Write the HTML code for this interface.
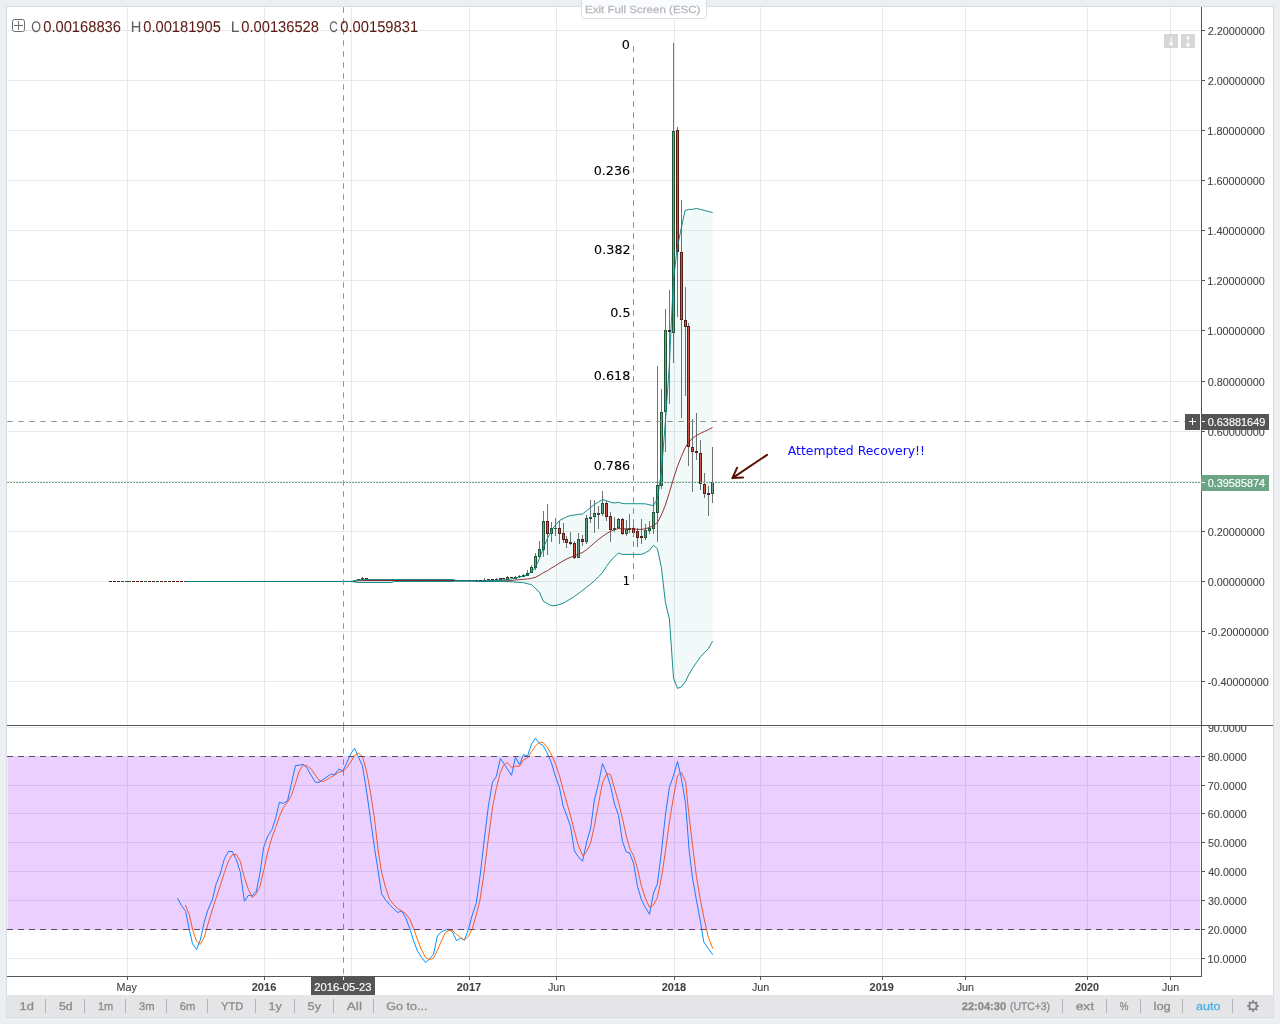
<!DOCTYPE html>
<html lang="en">
<head>
<meta charset="utf-8">
<title>Chart</title>
<style>
html,body{margin:0;padding:0;width:1280px;height:1024px;overflow:hidden;background:#ebeff2;}
svg{display:block;}
text{white-space:pre;}
</style>
</head>
<body>
<svg width="1280" height="1024" viewBox="0 0 1280 1024">
<rect x="0" y="0" width="1280" height="1024" fill="#ebeff2"/>
<rect x="6" y="6" width="1268" height="1012" fill="#d9dde1"/>
<rect x="7" y="7" width="1266" height="988" fill="#ffffff"/>
<rect x="7" y="995" width="1266" height="22" fill="#e5e5e7"/>
<g fill="#e8e8e8" shape-rendering="crispEdges">
<rect x="127" y="7" width="1" height="718" fill="#e8e8e8"/>
<rect x="127" y="726" width="1" height="250" fill="#e8e8e8"/>
<rect x="264" y="7" width="1" height="718" fill="#e8e8e8"/>
<rect x="264" y="726" width="1" height="250" fill="#e8e8e8"/>
<rect x="351" y="7" width="1" height="718" fill="#e8e8e8"/>
<rect x="351" y="726" width="1" height="250" fill="#e8e8e8"/>
<rect x="469" y="7" width="1" height="718" fill="#e8e8e8"/>
<rect x="469" y="726" width="1" height="250" fill="#e8e8e8"/>
<rect x="556" y="7" width="1" height="718" fill="#e8e8e8"/>
<rect x="556" y="726" width="1" height="250" fill="#e8e8e8"/>
<rect x="674" y="7" width="1" height="718" fill="#e8e8e8"/>
<rect x="674" y="726" width="1" height="250" fill="#e8e8e8"/>
<rect x="760" y="7" width="1" height="718" fill="#e8e8e8"/>
<rect x="760" y="726" width="1" height="250" fill="#e8e8e8"/>
<rect x="882" y="7" width="1" height="718" fill="#e8e8e8"/>
<rect x="882" y="726" width="1" height="250" fill="#e8e8e8"/>
<rect x="965" y="7" width="1" height="718" fill="#e8e8e8"/>
<rect x="965" y="726" width="1" height="250" fill="#e8e8e8"/>
<rect x="1087" y="7" width="1" height="718" fill="#e8e8e8"/>
<rect x="1087" y="726" width="1" height="250" fill="#e8e8e8"/>
<rect x="1170" y="7" width="1" height="718" fill="#e8e8e8"/>
<rect x="1170" y="726" width="1" height="250" fill="#e8e8e8"/>
<rect x="8" y="30" width="1192" height="1" fill="#e8e8e8"/>
<rect x="8" y="80" width="1192" height="1" fill="#e8e8e8"/>
<rect x="8" y="130" width="1192" height="1" fill="#e8e8e8"/>
<rect x="8" y="180" width="1192" height="1" fill="#e8e8e8"/>
<rect x="8" y="230" width="1192" height="1" fill="#e8e8e8"/>
<rect x="8" y="280" width="1192" height="1" fill="#e8e8e8"/>
<rect x="8" y="330" width="1192" height="1" fill="#e8e8e8"/>
<rect x="8" y="381" width="1192" height="1" fill="#e8e8e8"/>
<rect x="8" y="431" width="1192" height="1" fill="#e8e8e8"/>
<rect x="8" y="481" width="1192" height="1" fill="#e8e8e8"/>
<rect x="8" y="531" width="1192" height="1" fill="#e8e8e8"/>
<rect x="8" y="581" width="1192" height="1" fill="#e8e8e8"/>
<rect x="8" y="631" width="1192" height="1" fill="#e8e8e8"/>
<rect x="8" y="681" width="1192" height="1" fill="#e8e8e8"/>
<rect x="8" y="727" width="1192" height="1" fill="#e8e8e8"/>
<rect x="8" y="756" width="1192" height="1" fill="#e8e8e8"/>
<rect x="8" y="785" width="1192" height="1" fill="#e8e8e8"/>
<rect x="8" y="813" width="1192" height="1" fill="#e8e8e8"/>
<rect x="8" y="842" width="1192" height="1" fill="#e8e8e8"/>
<rect x="8" y="871" width="1192" height="1" fill="#e8e8e8"/>
<rect x="8" y="900" width="1192" height="1" fill="#e8e8e8"/>
<rect x="8" y="929" width="1192" height="1" fill="#e8e8e8"/>
<rect x="8" y="958" width="1192" height="1" fill="#e8e8e8"/>
</g>
<g shape-rendering="crispEdges">
<rect x="110" y="581" width="1" height="1" fill="#737375"/>
<rect x="109" y="581" width="3" height="1" fill="#5b1a13"/>
<rect x="114" y="581" width="1" height="1" fill="#737375"/>
<rect x="113" y="581" width="3" height="1" fill="#5b1a13"/>
<rect x="118" y="581" width="1" height="1" fill="#737375"/>
<rect x="117" y="581" width="3" height="1" fill="#5b1a13"/>
<rect x="122" y="581" width="1" height="1" fill="#737375"/>
<rect x="121" y="581" width="3" height="1" fill="#225437"/>
<rect x="126" y="581" width="1" height="1" fill="#737375"/>
<rect x="125" y="581" width="3" height="1" fill="#225437"/>
<rect x="129" y="581" width="1" height="1" fill="#737375"/>
<rect x="128" y="581" width="3" height="1" fill="#225437"/>
<rect x="133" y="581" width="1" height="1" fill="#737375"/>
<rect x="132" y="581" width="3" height="1" fill="#5b1a13"/>
<rect x="137" y="581" width="1" height="1" fill="#737375"/>
<rect x="136" y="581" width="3" height="1" fill="#5b1a13"/>
<rect x="141" y="581" width="1" height="1" fill="#737375"/>
<rect x="140" y="581" width="3" height="1" fill="#5b1a13"/>
<rect x="145" y="581" width="1" height="1" fill="#737375"/>
<rect x="144" y="581" width="3" height="1" fill="#225437"/>
<rect x="149" y="581" width="1" height="1" fill="#737375"/>
<rect x="148" y="581" width="3" height="1" fill="#5b1a13"/>
<rect x="153" y="581" width="1" height="1" fill="#737375"/>
<rect x="152" y="581" width="3" height="1" fill="#5b1a13"/>
<rect x="157" y="581" width="1" height="1" fill="#737375"/>
<rect x="156" y="581" width="3" height="1" fill="#225437"/>
<rect x="161" y="581" width="1" height="1" fill="#737375"/>
<rect x="160" y="581" width="3" height="1" fill="#5b1a13"/>
<rect x="165" y="581" width="1" height="1" fill="#737375"/>
<rect x="164" y="581" width="3" height="1" fill="#225437"/>
<rect x="169" y="581" width="1" height="1" fill="#737375"/>
<rect x="168" y="581" width="3" height="1" fill="#5b1a13"/>
<rect x="173" y="581" width="1" height="1" fill="#737375"/>
<rect x="172" y="581" width="3" height="1" fill="#5b1a13"/>
<rect x="177" y="581" width="1" height="1" fill="#737375"/>
<rect x="176" y="581" width="3" height="1" fill="#5b1a13"/>
<rect x="181" y="581" width="1" height="1" fill="#737375"/>
<rect x="180" y="581" width="3" height="1" fill="#5b1a13"/>
<rect x="185" y="581" width="1" height="1" fill="#737375"/>
<rect x="184" y="581" width="3" height="1" fill="#5b1a13"/>
<rect x="188" y="581" width="1" height="1" fill="#737375"/>
<rect x="187" y="581" width="3" height="1" fill="#225437"/>
<rect x="192" y="581" width="1" height="1" fill="#737375"/>
<rect x="191" y="581" width="3" height="1" fill="#225437"/>
<rect x="196" y="581" width="1" height="1" fill="#737375"/>
<rect x="195" y="581" width="3" height="1" fill="#5b1a13"/>
<rect x="200" y="581" width="1" height="1" fill="#737375"/>
<rect x="199" y="581" width="3" height="1" fill="#5b1a13"/>
<rect x="204" y="581" width="1" height="1" fill="#737375"/>
<rect x="203" y="581" width="3" height="1" fill="#5b1a13"/>
<rect x="208" y="581" width="1" height="1" fill="#737375"/>
<rect x="207" y="581" width="3" height="1" fill="#5b1a13"/>
<rect x="212" y="581" width="1" height="1" fill="#737375"/>
<rect x="211" y="581" width="3" height="1" fill="#5b1a13"/>
<rect x="216" y="581" width="1" height="1" fill="#737375"/>
<rect x="215" y="581" width="3" height="1" fill="#225437"/>
<rect x="220" y="581" width="1" height="1" fill="#737375"/>
<rect x="219" y="581" width="3" height="1" fill="#5b1a13"/>
<rect x="224" y="581" width="1" height="1" fill="#737375"/>
<rect x="223" y="581" width="3" height="1" fill="#5b1a13"/>
<rect x="228" y="581" width="1" height="1" fill="#737375"/>
<rect x="227" y="581" width="3" height="1" fill="#225437"/>
<rect x="232" y="581" width="1" height="1" fill="#737375"/>
<rect x="231" y="581" width="3" height="1" fill="#225437"/>
<rect x="236" y="581" width="1" height="1" fill="#737375"/>
<rect x="235" y="581" width="3" height="1" fill="#5b1a13"/>
<rect x="240" y="581" width="1" height="1" fill="#737375"/>
<rect x="239" y="581" width="3" height="1" fill="#225437"/>
<rect x="244" y="581" width="1" height="1" fill="#737375"/>
<rect x="243" y="581" width="3" height="1" fill="#5b1a13"/>
<rect x="248" y="581" width="1" height="1" fill="#737375"/>
<rect x="247" y="581" width="3" height="1" fill="#225437"/>
<rect x="251" y="581" width="1" height="1" fill="#737375"/>
<rect x="250" y="581" width="3" height="1" fill="#5b1a13"/>
<rect x="255" y="581" width="1" height="1" fill="#737375"/>
<rect x="254" y="581" width="3" height="1" fill="#5b1a13"/>
<rect x="259" y="581" width="1" height="1" fill="#737375"/>
<rect x="258" y="581" width="3" height="1" fill="#225437"/>
<rect x="263" y="581" width="1" height="1" fill="#737375"/>
<rect x="262" y="581" width="3" height="1" fill="#5b1a13"/>
<rect x="267" y="581" width="1" height="1" fill="#737375"/>
<rect x="266" y="581" width="3" height="1" fill="#225437"/>
<rect x="271" y="581" width="1" height="1" fill="#737375"/>
<rect x="270" y="581" width="3" height="1" fill="#5b1a13"/>
<rect x="275" y="581" width="1" height="1" fill="#737375"/>
<rect x="274" y="581" width="3" height="1" fill="#225437"/>
<rect x="279" y="581" width="1" height="1" fill="#737375"/>
<rect x="278" y="581" width="3" height="1" fill="#5b1a13"/>
<rect x="283" y="581" width="1" height="1" fill="#737375"/>
<rect x="282" y="581" width="3" height="1" fill="#225437"/>
<rect x="287" y="581" width="1" height="1" fill="#737375"/>
<rect x="286" y="581" width="3" height="1" fill="#5b1a13"/>
<rect x="291" y="581" width="1" height="1" fill="#737375"/>
<rect x="290" y="581" width="3" height="1" fill="#225437"/>
<rect x="295" y="581" width="1" height="1" fill="#737375"/>
<rect x="294" y="581" width="3" height="1" fill="#225437"/>
<rect x="299" y="581" width="1" height="1" fill="#737375"/>
<rect x="298" y="581" width="3" height="1" fill="#5b1a13"/>
<rect x="303" y="581" width="1" height="1" fill="#737375"/>
<rect x="302" y="581" width="3" height="1" fill="#5b1a13"/>
<rect x="307" y="581" width="1" height="1" fill="#737375"/>
<rect x="306" y="581" width="3" height="1" fill="#225437"/>
<rect x="311" y="581" width="1" height="1" fill="#737375"/>
<rect x="310" y="581" width="3" height="1" fill="#5b1a13"/>
<rect x="314" y="581" width="1" height="1" fill="#737375"/>
<rect x="313" y="581" width="3" height="1" fill="#225437"/>
<rect x="318" y="581" width="1" height="1" fill="#737375"/>
<rect x="317" y="581" width="3" height="1" fill="#5b1a13"/>
<rect x="322" y="581" width="1" height="1" fill="#737375"/>
<rect x="321" y="581" width="3" height="1" fill="#5b1a13"/>
<rect x="326" y="581" width="1" height="1" fill="#737375"/>
<rect x="325" y="581" width="3" height="1" fill="#5b1a13"/>
<rect x="330" y="581" width="1" height="1" fill="#737375"/>
<rect x="329" y="581" width="3" height="1" fill="#5b1a13"/>
<rect x="334" y="581" width="1" height="1" fill="#737375"/>
<rect x="333" y="581" width="3" height="1" fill="#225437"/>
<rect x="338" y="581" width="1" height="1" fill="#737375"/>
<rect x="337" y="581" width="3" height="1" fill="#225437"/>
<rect x="342" y="581" width="1" height="1" fill="#737375"/>
<rect x="341" y="581" width="3" height="1" fill="#225437"/>
<rect x="346" y="581" width="1" height="1" fill="#737375"/>
<rect x="345" y="581" width="3" height="1" fill="#5b1a13"/>
<rect x="350" y="581" width="1" height="1" fill="#737375"/>
<rect x="349" y="581" width="3" height="1" fill="#225437"/>
<rect x="354" y="581" width="1" height="1" fill="#737375"/>
<rect x="353" y="581" width="3" height="1" fill="#225437"/>
<rect x="358" y="579" width="1" height="1" fill="#737375"/>
<rect x="357" y="579" width="3" height="1" fill="#225437"/>
<rect x="362" y="577" width="1" height="3" fill="#737375"/>
<rect x="361" y="578" width="3" height="1" fill="#225437"/>
<rect x="366" y="578" width="1" height="1" fill="#737375"/>
<rect x="365" y="578" width="3" height="1" fill="#5b1a13"/>
<rect x="370" y="580" width="1" height="1" fill="#737375"/>
<rect x="369" y="580" width="3" height="1" fill="#225437"/>
<rect x="374" y="580" width="1" height="1" fill="#737375"/>
<rect x="373" y="580" width="3" height="1" fill="#225437"/>
<rect x="377" y="580" width="1" height="1" fill="#737375"/>
<rect x="376" y="580" width="3" height="1" fill="#5b1a13"/>
<rect x="381" y="580" width="1" height="1" fill="#737375"/>
<rect x="380" y="580" width="3" height="1" fill="#5b1a13"/>
<rect x="385" y="580" width="1" height="1" fill="#737375"/>
<rect x="384" y="580" width="3" height="1" fill="#225437"/>
<rect x="389" y="580" width="1" height="1" fill="#737375"/>
<rect x="388" y="580" width="3" height="1" fill="#5b1a13"/>
<rect x="393" y="580" width="1" height="1" fill="#737375"/>
<rect x="392" y="580" width="3" height="1" fill="#225437"/>
<rect x="397" y="580" width="1" height="1" fill="#737375"/>
<rect x="396" y="580" width="3" height="1" fill="#5b1a13"/>
<rect x="401" y="580" width="1" height="1" fill="#737375"/>
<rect x="400" y="580" width="3" height="1" fill="#5b1a13"/>
<rect x="405" y="580" width="1" height="1" fill="#737375"/>
<rect x="404" y="580" width="3" height="1" fill="#5b1a13"/>
<rect x="409" y="580" width="1" height="1" fill="#737375"/>
<rect x="408" y="580" width="3" height="1" fill="#225437"/>
<rect x="413" y="580" width="1" height="1" fill="#737375"/>
<rect x="412" y="580" width="3" height="1" fill="#225437"/>
<rect x="417" y="580" width="1" height="1" fill="#737375"/>
<rect x="416" y="580" width="3" height="1" fill="#5b1a13"/>
<rect x="421" y="580" width="1" height="1" fill="#737375"/>
<rect x="420" y="580" width="3" height="1" fill="#225437"/>
<rect x="425" y="580" width="1" height="1" fill="#737375"/>
<rect x="424" y="580" width="3" height="1" fill="#225437"/>
<rect x="429" y="580" width="1" height="1" fill="#737375"/>
<rect x="428" y="580" width="3" height="1" fill="#225437"/>
<rect x="433" y="580" width="1" height="1" fill="#737375"/>
<rect x="432" y="580" width="3" height="1" fill="#5b1a13"/>
<rect x="437" y="580" width="1" height="1" fill="#737375"/>
<rect x="436" y="580" width="3" height="1" fill="#5b1a13"/>
<rect x="440" y="580" width="1" height="1" fill="#737375"/>
<rect x="439" y="580" width="3" height="1" fill="#5b1a13"/>
<rect x="444" y="580" width="1" height="1" fill="#737375"/>
<rect x="443" y="580" width="3" height="1" fill="#5b1a13"/>
<rect x="448" y="580" width="1" height="1" fill="#737375"/>
<rect x="447" y="580" width="3" height="1" fill="#5b1a13"/>
<rect x="452" y="580" width="1" height="1" fill="#737375"/>
<rect x="451" y="580" width="3" height="1" fill="#225437"/>
<rect x="456" y="580" width="1" height="1" fill="#737375"/>
<rect x="455" y="580" width="3" height="1" fill="#225437"/>
<rect x="460" y="580" width="1" height="1" fill="#737375"/>
<rect x="459" y="580" width="3" height="1" fill="#5b1a13"/>
<rect x="464" y="580" width="1" height="1" fill="#737375"/>
<rect x="463" y="580" width="3" height="1" fill="#5b1a13"/>
<rect x="468" y="580" width="1" height="1" fill="#737375"/>
<rect x="467" y="580" width="3" height="1" fill="#5b1a13"/>
<rect x="472" y="580" width="1" height="1" fill="#737375"/>
<rect x="471" y="580" width="3" height="1" fill="#225437"/>
<rect x="476" y="580" width="1" height="1" fill="#737375"/>
<rect x="475" y="580" width="3" height="1" fill="#5b1a13"/>
<rect x="480" y="580" width="1" height="1" fill="#737375"/>
<rect x="479" y="580" width="3" height="1" fill="#5b1a13"/>
<rect x="484" y="578" width="1" height="3" fill="#737375"/>
<rect x="483" y="580" width="3" height="1" fill="#5b1a13"/>
<rect x="488" y="579" width="1" height="1" fill="#737375"/>
<rect x="487" y="579" width="3" height="1" fill="#225437"/>
<rect x="492" y="579" width="1" height="1" fill="#737375"/>
<rect x="491" y="579" width="3" height="1" fill="#5b1a13"/>
<rect x="496" y="578" width="1" height="2" fill="#737375"/>
<rect x="495" y="579" width="3" height="1" fill="#225437"/>
<rect x="500" y="578" width="1" height="2" fill="#737375"/>
<rect x="499" y="578" width="3" height="2" fill="#225437"/>
<rect x="503" y="578" width="1" height="1" fill="#737375"/>
<rect x="502" y="578" width="3" height="1" fill="#5b1a13"/>
<rect x="507" y="576" width="1" height="4" fill="#737375"/>
<rect x="506" y="577" width="3" height="3" fill="#225437"/>
<rect x="507" y="578" width="1" height="1" fill="#6ba583"/>
<rect x="511" y="577" width="1" height="1" fill="#737375"/>
<rect x="510" y="577" width="3" height="1" fill="#5b1a13"/>
<rect x="515" y="576" width="1" height="3" fill="#737375"/>
<rect x="514" y="577" width="3" height="2" fill="#225437"/>
<rect x="519" y="575" width="1" height="3" fill="#737375"/>
<rect x="518" y="576" width="3" height="1" fill="#225437"/>
<rect x="523" y="574" width="1" height="3" fill="#737375"/>
<rect x="522" y="575" width="3" height="2" fill="#225437"/>
<rect x="527" y="570" width="1" height="6" fill="#737375"/>
<rect x="526" y="573" width="3" height="3" fill="#225437"/>
<rect x="527" y="574" width="1" height="1" fill="#6ba583"/>
<rect x="531" y="565" width="1" height="8" fill="#737375"/>
<rect x="530" y="567" width="3" height="6" fill="#225437"/>
<rect x="531" y="568" width="1" height="4" fill="#6ba583"/>
<rect x="535" y="553" width="1" height="17" fill="#737375"/>
<rect x="534" y="556" width="3" height="12" fill="#225437"/>
<rect x="535" y="557" width="1" height="10" fill="#6ba583"/>
<rect x="539" y="541" width="1" height="16" fill="#737375"/>
<rect x="538" y="549" width="3" height="8" fill="#225437"/>
<rect x="539" y="550" width="1" height="6" fill="#6ba583"/>
<rect x="543" y="511" width="1" height="46" fill="#737375"/>
<rect x="542" y="521" width="3" height="29" fill="#225437"/>
<rect x="543" y="522" width="1" height="27" fill="#6ba583"/>
<rect x="547" y="504" width="1" height="51" fill="#737375"/>
<rect x="546" y="521" width="3" height="13" fill="#5b1a13"/>
<rect x="547" y="522" width="1" height="11" fill="#d75442"/>
<rect x="551" y="522" width="1" height="20" fill="#737375"/>
<rect x="550" y="528" width="3" height="6" fill="#225437"/>
<rect x="551" y="529" width="1" height="4" fill="#6ba583"/>
<rect x="555" y="518" width="1" height="18" fill="#737375"/>
<rect x="554" y="528" width="3" height="1" fill="#225437"/>
<rect x="559" y="521" width="1" height="23" fill="#737375"/>
<rect x="558" y="528" width="3" height="6" fill="#5b1a13"/>
<rect x="559" y="529" width="1" height="4" fill="#d75442"/>
<rect x="563" y="523" width="1" height="20" fill="#737375"/>
<rect x="562" y="533" width="3" height="7" fill="#5b1a13"/>
<rect x="563" y="534" width="1" height="5" fill="#d75442"/>
<rect x="566" y="536" width="1" height="12" fill="#737375"/>
<rect x="565" y="539" width="3" height="4" fill="#5b1a13"/>
<rect x="566" y="540" width="1" height="2" fill="#d75442"/>
<rect x="570" y="532" width="1" height="13" fill="#737375"/>
<rect x="569" y="542" width="3" height="2" fill="#5b1a13"/>
<rect x="574" y="541" width="1" height="18" fill="#737375"/>
<rect x="573" y="543" width="3" height="15" fill="#5b1a13"/>
<rect x="574" y="544" width="1" height="13" fill="#d75442"/>
<rect x="578" y="533" width="1" height="25" fill="#737375"/>
<rect x="577" y="539" width="3" height="19" fill="#225437"/>
<rect x="578" y="540" width="1" height="17" fill="#6ba583"/>
<rect x="582" y="535" width="1" height="11" fill="#737375"/>
<rect x="581" y="539" width="3" height="3" fill="#5b1a13"/>
<rect x="582" y="540" width="1" height="1" fill="#d75442"/>
<rect x="586" y="515" width="1" height="29" fill="#737375"/>
<rect x="585" y="518" width="3" height="24" fill="#225437"/>
<rect x="586" y="519" width="1" height="22" fill="#6ba583"/>
<rect x="590" y="500" width="1" height="23" fill="#737375"/>
<rect x="589" y="517" width="3" height="2" fill="#225437"/>
<rect x="594" y="500" width="1" height="33" fill="#737375"/>
<rect x="593" y="513" width="3" height="4" fill="#225437"/>
<rect x="594" y="514" width="1" height="2" fill="#6ba583"/>
<rect x="598" y="506" width="1" height="23" fill="#737375"/>
<rect x="597" y="513" width="3" height="2" fill="#225437"/>
<rect x="602" y="491" width="1" height="25" fill="#737375"/>
<rect x="601" y="503" width="3" height="11" fill="#225437"/>
<rect x="602" y="504" width="1" height="9" fill="#6ba583"/>
<rect x="606" y="501" width="1" height="20" fill="#737375"/>
<rect x="605" y="503" width="3" height="14" fill="#5b1a13"/>
<rect x="606" y="504" width="1" height="12" fill="#d75442"/>
<rect x="610" y="512" width="1" height="30" fill="#737375"/>
<rect x="609" y="516" width="3" height="14" fill="#5b1a13"/>
<rect x="610" y="517" width="1" height="12" fill="#d75442"/>
<rect x="614" y="517" width="1" height="15" fill="#737375"/>
<rect x="613" y="528" width="3" height="2" fill="#225437"/>
<rect x="618" y="518" width="1" height="11" fill="#737375"/>
<rect x="617" y="519" width="3" height="9" fill="#225437"/>
<rect x="618" y="520" width="1" height="7" fill="#6ba583"/>
<rect x="622" y="518" width="1" height="17" fill="#737375"/>
<rect x="621" y="519" width="3" height="15" fill="#5b1a13"/>
<rect x="622" y="520" width="1" height="13" fill="#d75442"/>
<rect x="626" y="520" width="1" height="16" fill="#737375"/>
<rect x="625" y="529" width="3" height="5" fill="#225437"/>
<rect x="626" y="530" width="1" height="3" fill="#6ba583"/>
<rect x="629" y="514" width="1" height="19" fill="#737375"/>
<rect x="628" y="528" width="3" height="2" fill="#225437"/>
<rect x="633" y="525" width="1" height="12" fill="#737375"/>
<rect x="632" y="528" width="3" height="5" fill="#5b1a13"/>
<rect x="633" y="529" width="1" height="3" fill="#d75442"/>
<rect x="637" y="528" width="1" height="19" fill="#737375"/>
<rect x="636" y="531" width="3" height="7" fill="#5b1a13"/>
<rect x="637" y="532" width="1" height="5" fill="#d75442"/>
<rect x="641" y="519" width="1" height="25" fill="#737375"/>
<rect x="640" y="536" width="3" height="2" fill="#5b1a13"/>
<rect x="645" y="524" width="1" height="16" fill="#737375"/>
<rect x="644" y="530" width="3" height="8" fill="#225437"/>
<rect x="645" y="531" width="1" height="6" fill="#6ba583"/>
<rect x="649" y="521" width="1" height="13" fill="#737375"/>
<rect x="648" y="528" width="3" height="3" fill="#225437"/>
<rect x="649" y="529" width="1" height="1" fill="#6ba583"/>
<rect x="653" y="497" width="1" height="37" fill="#737375"/>
<rect x="652" y="512" width="3" height="17" fill="#225437"/>
<rect x="653" y="513" width="1" height="15" fill="#6ba583"/>
<rect x="657" y="366" width="1" height="176" fill="#737375"/>
<rect x="656" y="485" width="3" height="28" fill="#225437"/>
<rect x="657" y="486" width="1" height="26" fill="#6ba583"/>
<rect x="661" y="389" width="1" height="100" fill="#737375"/>
<rect x="660" y="412" width="3" height="74" fill="#225437"/>
<rect x="661" y="413" width="1" height="72" fill="#6ba583"/>
<rect x="665" y="309" width="1" height="143" fill="#737375"/>
<rect x="664" y="330" width="3" height="82" fill="#225437"/>
<rect x="665" y="331" width="1" height="80" fill="#6ba583"/>
<rect x="669" y="290" width="1" height="114" fill="#737375"/>
<rect x="668" y="330" width="3" height="2" fill="#5b1a13"/>
<rect x="673" y="43" width="1" height="320" fill="#737375"/>
<rect x="672" y="131" width="3" height="202" fill="#225437"/>
<rect x="673" y="132" width="1" height="200" fill="#6ba583"/>
<rect x="677" y="127" width="1" height="190" fill="#737375"/>
<rect x="676" y="130" width="3" height="122" fill="#5b1a13"/>
<rect x="677" y="131" width="1" height="120" fill="#d75442"/>
<rect x="681" y="200" width="1" height="218" fill="#737375"/>
<rect x="680" y="252" width="3" height="68" fill="#5b1a13"/>
<rect x="681" y="253" width="1" height="66" fill="#d75442"/>
<rect x="685" y="287" width="1" height="109" fill="#737375"/>
<rect x="684" y="320" width="3" height="7" fill="#5b1a13"/>
<rect x="685" y="321" width="1" height="5" fill="#d75442"/>
<rect x="688" y="323" width="1" height="143" fill="#737375"/>
<rect x="687" y="326" width="3" height="121" fill="#5b1a13"/>
<rect x="688" y="327" width="1" height="119" fill="#d75442"/>
<rect x="692" y="419" width="1" height="73" fill="#737375"/>
<rect x="691" y="447" width="3" height="5" fill="#5b1a13"/>
<rect x="692" y="448" width="1" height="3" fill="#d75442"/>
<rect x="696" y="413" width="1" height="47" fill="#737375"/>
<rect x="695" y="451" width="3" height="2" fill="#5b1a13"/>
<rect x="700" y="440" width="1" height="50" fill="#737375"/>
<rect x="699" y="453" width="3" height="31" fill="#5b1a13"/>
<rect x="700" y="454" width="1" height="29" fill="#d75442"/>
<rect x="704" y="473" width="1" height="25" fill="#737375"/>
<rect x="703" y="484" width="3" height="10" fill="#5b1a13"/>
<rect x="704" y="485" width="1" height="8" fill="#d75442"/>
<rect x="708" y="486" width="1" height="30" fill="#737375"/>
<rect x="707" y="493" width="3" height="2" fill="#5b1a13"/>
<rect x="712" y="447" width="1" height="56" fill="#737375"/>
<rect x="711" y="482" width="3" height="12" fill="#225437"/>
<rect x="712" y="483" width="1" height="10" fill="#6ba583"/>
</g>
<polygon points="185.00,581.50 352.00,581.40 356.00,580.20 362.00,579.50 453.00,579.50 457.00,580.70 475.00,580.80 478.00,581.20 484.00,580.80 499.00,580.20 506.90,579.50 514.70,578.30 518.60,577.30 522.50,576.30 526.40,575.20 530.30,572.80 534.20,568.90 538.10,561.90 542.00,551.70 543.50,547.50 547.50,538.40 551.50,530.30 555.40,524.90 559.50,520.60 563.40,518.50 566.50,516.80 570.40,515.50 574.50,515.00 578.50,514.25 582.40,514.10 586.50,510.80 590.50,507.50 594.50,504.40 598.50,501.90 602.50,499.50 606.50,500.70 610.50,502.20 614.50,503.00 618.40,502.30 622.50,503.50 626.50,503.70 637.50,503.70 645.40,503.80 649.50,504.80 653.50,505.60 657.40,498.75 661.40,472.00 665.40,421.00 669.30,366.00 673.25,282.00 677.20,248.00 681.10,229.00 685.05,210.50 688.50,209.40 692.50,209.40 696.40,208.40 700.40,209.40 704.40,210.40 708.40,211.40 712.60,212.50 712.60,641.20 708.50,648.50 704.50,652.70 700.50,656.80 696.50,662.50 692.50,668.40 688.50,675.20 685.50,681.50 681.50,686.90 677.50,688.40 673.50,678.10 669.40,619.00 665.40,602.30 661.40,567.50 657.40,548.75 653.50,545.30 649.50,550.30 645.40,552.80 641.50,554.40 622.50,554.40 618.40,553.20 614.40,556.80 610.50,561.00 606.40,566.50 602.25,573.00 598.40,576.80 594.50,580.80 590.60,584.10 586.60,587.30 582.70,590.30 578.70,593.30 574.80,596.20 570.90,598.70 566.95,601.10 563.00,603.30 559.10,604.60 555.10,605.70 551.20,605.60 547.30,603.50 543.30,601.20 539.40,592.10 535.45,588.50 531.50,584.70 523.75,582.75 512.50,581.90 500.00,581.40 478.00,581.50 475.00,581.00 457.00,581.00 453.00,581.50 394.50,581.50 391.00,582.50 359.00,582.50 356.00,582.20 352.00,581.50 185.00,581.50" fill="#008080" fill-opacity="0.05"/>
<polyline points="185.00,581.50 352.00,581.50 358.00,580.70 365.00,580.50 453.00,580.50 457.00,580.80 475.00,580.80 478.00,581.30 500.00,580.90 510.00,580.60 517.50,579.80 523.40,579.30 527.50,579.00 531.50,578.40 535.60,577.20 539.60,575.10 543.30,572.70 547.30,570.80 551.20,568.10 555.10,566.00 559.10,563.30 563.00,561.00 566.95,558.90 570.90,557.20 574.80,555.80 578.50,553.75 582.50,552.60 586.50,549.70 590.40,546.40 594.40,542.90 598.25,539.60 602.25,536.60 606.40,533.70 610.40,531.40 614.40,529.60 618.40,528.60 622.40,528.80 633.40,529.00 637.40,529.40 641.40,529.40 645.40,528.75 649.50,527.50 653.50,525.60 657.40,522.50 661.40,515.00 665.40,505.00 669.40,492.50 673.40,478.75 677.50,466.25 681.50,456.25 685.40,447.30 688.50,442.40 692.50,438.30 696.40,435.40 700.40,433.40 704.40,431.50 708.40,429.60 712.60,427.50" fill="none" stroke="#8a2222" stroke-width="1" stroke-linejoin="round" stroke-opacity="0.92"/>
<polyline points="185.00,581.50 352.00,581.40 356.00,580.20 362.00,579.50 453.00,579.50 457.00,580.70 475.00,580.80 478.00,581.20 484.00,580.80 499.00,580.20 506.90,579.50 514.70,578.30 518.60,577.30 522.50,576.30 526.40,575.20 530.30,572.80 534.20,568.90 538.10,561.90 542.00,551.70 543.50,547.50 547.50,538.40 551.50,530.30 555.40,524.90 559.50,520.60 563.40,518.50 566.50,516.80 570.40,515.50 574.50,515.00 578.50,514.25 582.40,514.10 586.50,510.80 590.50,507.50 594.50,504.40 598.50,501.90 602.50,499.50 606.50,500.70 610.50,502.20 614.50,503.00 618.40,502.30 622.50,503.50 626.50,503.70 637.50,503.70 645.40,503.80 649.50,504.80 653.50,505.60 657.40,498.75 661.40,472.00 665.40,421.00 669.30,366.00 673.25,282.00 677.20,248.00 681.10,229.00 685.05,210.50 688.50,209.40 692.50,209.40 696.40,208.40 700.40,209.40 704.40,210.40 708.40,211.40 712.60,212.50" fill="none" stroke="#008080" stroke-width="1" stroke-linejoin="round" stroke-opacity="0.9"/>
<polyline points="185.00,581.50 352.00,581.50 356.00,582.20 359.00,582.50 391.00,582.50 394.50,581.50 453.00,581.50 457.00,581.00 475.00,581.00 478.00,581.50 500.00,581.40 512.50,581.90 523.75,582.75 531.50,584.70 535.45,588.50 539.40,592.10 543.30,601.20 547.30,603.50 551.20,605.60 555.10,605.70 559.10,604.60 563.00,603.30 566.95,601.10 570.90,598.70 574.80,596.20 578.70,593.30 582.70,590.30 586.60,587.30 590.60,584.10 594.50,580.80 598.40,576.80 602.25,573.00 606.40,566.50 610.50,561.00 614.40,556.80 618.40,553.20 622.50,554.40 641.50,554.40 645.40,552.80 649.50,550.30 653.50,545.30 657.40,548.75 661.40,567.50 665.40,602.30 669.40,619.00 673.50,678.10 677.50,688.40 681.50,686.90 685.50,681.50 688.50,675.20 692.50,668.40 696.50,662.50 700.50,656.80 704.50,652.70 708.50,648.50 712.60,641.20" fill="none" stroke="#008080" stroke-width="1" stroke-linejoin="round" stroke-opacity="0.9"/>
<line x1="633.5" y1="46.25" x2="633.5" y2="579.5" stroke="#8a8a8a" stroke-width="1" stroke-dasharray="5.5 5.5"/>
<g fill="#000000" stroke="#000000" stroke-width="0.1">
<text x="621.83" y="49.3" font-family="'DejaVu Sans', Verdana, sans-serif" font-size="12px" textLength="8.12" lengthAdjust="spacingAndGlyphs">0</text>
<text x="593.66" y="175.3" font-family="'DejaVu Sans', Verdana, sans-serif" font-size="12px" textLength="36.55" lengthAdjust="spacingAndGlyphs">0.236</text>
<text x="594.13" y="253.8" font-family="'DejaVu Sans', Verdana, sans-serif" font-size="12px" textLength="36.55" lengthAdjust="spacingAndGlyphs">0.382</text>
<text x="610.21" y="317.3" font-family="'DejaVu Sans', Verdana, sans-serif" font-size="12px" textLength="20.30" lengthAdjust="spacingAndGlyphs">0.5</text>
<text x="593.73" y="380.3" font-family="'DejaVu Sans', Verdana, sans-serif" font-size="12px" textLength="36.55" lengthAdjust="spacingAndGlyphs">0.618</text>
<text x="593.66" y="470.3" font-family="'DejaVu Sans', Verdana, sans-serif" font-size="12px" textLength="36.55" lengthAdjust="spacingAndGlyphs">0.786</text>
<text x="622.86" y="585.3" font-family="'DejaVu Sans', Verdana, sans-serif" font-size="12px" textLength="7.18" lengthAdjust="spacingAndGlyphs">1</text>
</g>
<line x1="7" y1="482.5" x2="1201" y2="482.5" stroke="#6ba583" stroke-width="1" stroke-dasharray="2 1" shape-rendering="crispEdges"/>
<line x1="7.25" y1="421.5" x2="1185" y2="421.5" stroke="#939393" stroke-width="1" stroke-dasharray="5.5 5.5"/>
<line x1="343.5" y1="7.25" x2="343.5" y2="725" stroke="#939393" stroke-width="1" stroke-dasharray="5.5 5.5"/>
<line x1="343.5" y1="726.25" x2="343.5" y2="976" stroke="#939393" stroke-width="1" stroke-dasharray="5.5 5.5"/>
<g fill="none" stroke="#5b1000" stroke-width="2" stroke-linecap="round" stroke-linejoin="round">
<path d="M767.1 454.8 L732.4 478.1 M737.1 467.7 L732.4 478.1 L743 477.4"/>
</g>
<text x="787.80" y="455" font-family="'DejaVu Sans', Verdana, sans-serif" font-size="12px" fill="#0808ff" textLength="137.26" lengthAdjust="spacingAndGlyphs">Attempted Recovery!!</text>
<polyline points="177.50,898.10 181.50,905.60 185.60,911.25 189.40,930.00 192.50,943.75 196.50,949.60 200.25,940.00 204.40,921.25 208.10,909.40 212.25,900.00 216.25,883.50 220.25,873.75 224.40,858.75 228.40,851.50 232.25,851.50 236.25,859.40 240.25,871.90 244.40,901.25 248.40,895.25 252.25,896.00 256.25,891.25 260.00,873.10 263.70,847.20 267.80,836.00 272.00,829.40 275.70,818.10 279.40,802.20 283.20,803.50 287.50,800.90 291.25,784.40 295.40,765.60 299.10,765.25 303.10,764.30 307.20,768.40 311.50,775.90 315.25,782.10 319.00,782.50 322.75,779.70 326.90,776.90 330.60,774.10 334.75,774.50 338.75,769.10 342.75,770.75 346.60,763.50 350.60,754.10 354.60,748.25 358.50,757.25 362.50,766.00 366.50,791.00 370.60,819.75 374.60,848.50 377.75,868.75 381.60,893.75 385.60,900.00 389.60,904.60 393.75,908.75 397.75,912.50 401.60,910.90 405.60,917.50 409.60,928.10 413.75,941.25 417.60,951.25 421.60,957.50 425.60,962.50 429.60,958.75 433.50,954.40 437.50,935.60 441.50,931.90 445.40,930.00 448.75,929.40 452.50,931.90 456.50,940.60 460.50,938.10 464.40,940.00 468.40,929.40 472.25,915.00 476.25,903.10 480.00,876.50 484.40,838.50 488.40,806.00 492.50,782.25 496.25,776.60 500.40,758.50 504.10,764.00 508.00,770.00 511.50,775.40 515.40,757.25 519.60,764.75 523.50,754.50 527.50,756.00 531.50,744.10 535.40,738.25 539.40,743.50 543.10,745.40 547.10,752.90 551.25,762.25 555.25,776.00 559.40,787.25 563.10,806.00 566.90,816.00 570.60,826.60 574.40,851.00 578.50,856.90 582.50,861.25 586.90,841.00 590.60,828.50 594.40,799.75 598.50,783.50 602.50,763.50 606.90,774.00 610.60,786.00 614.50,804.00 618.50,815.40 622.50,841.50 626.25,852.00 629.40,852.70 633.50,863.10 637.50,886.25 641.50,900.00 645.40,907.50 649.50,914.40 653.50,893.10 657.40,883.75 661.30,853.00 665.60,813.50 669.40,787.25 673.40,776.00 677.50,761.60 681.25,777.90 685.60,803.50 689.10,850.00 692.50,878.10 696.40,900.00 700.40,921.25 703.75,941.90 708.40,948.75 712.90,954.75" fill="none" stroke="#0094ff" stroke-width="1" stroke-linejoin="round"/>
<polyline points="185.40,905.00 189.40,915.00 192.75,930.00 196.50,941.25 200.25,944.40 204.40,936.90 208.10,923.75 212.25,910.00 216.25,897.50 220.25,885.60 224.40,872.50 228.40,861.25 232.25,854.75 236.25,854.40 240.25,861.25 244.40,877.50 248.40,889.40 252.25,897.50 256.25,893.75 260.00,886.25 263.70,870.60 267.80,851.90 272.00,837.25 275.70,827.50 279.40,816.60 283.20,807.80 287.50,802.20 291.25,795.60 295.40,783.40 299.10,771.60 303.10,765.00 307.20,766.00 311.50,769.40 315.25,775.00 319.00,780.25 322.75,781.60 326.90,779.70 330.60,777.25 334.75,775.10 338.75,772.25 342.75,771.25 346.60,767.90 350.60,762.25 354.60,755.40 358.50,753.10 362.50,756.60 366.50,771.00 370.60,792.90 374.60,819.75 378.10,850.00 381.60,872.50 385.60,887.50 389.60,899.40 393.75,904.60 397.75,908.50 401.60,910.90 405.60,913.75 409.60,918.75 413.75,928.75 417.60,940.00 421.60,950.00 425.60,957.50 429.60,959.75 433.50,958.10 437.50,950.00 441.50,940.60 445.40,932.50 448.75,930.40 452.50,930.60 456.50,934.40 460.50,937.50 464.40,940.25 468.40,936.25 472.25,928.75 476.25,915.00 480.00,900.00 483.75,875.00 488.40,838.50 492.50,807.25 496.25,788.50 500.40,772.25 503.50,765.40 507.25,762.50 511.50,767.25 515.40,766.25 519.60,766.25 523.50,759.75 527.50,757.90 531.50,751.60 535.40,746.00 539.40,742.25 543.10,742.50 547.10,747.25 551.25,754.10 555.25,763.50 559.40,775.40 563.10,789.75 566.90,802.90 570.60,816.00 574.40,831.00 578.10,844.75 583.10,856.25 586.90,851.00 590.60,842.90 594.40,826.00 598.50,803.50 602.50,782.90 606.90,773.50 610.60,774.50 614.40,787.90 618.40,801.60 622.50,818.50 626.25,836.00 630.00,849.10 633.50,855.60 637.50,868.75 641.50,886.25 645.40,898.10 649.50,907.50 653.50,905.00 657.40,897.50 661.50,877.50 665.60,850.00 669.40,822.25 673.40,797.25 677.50,776.00 681.25,772.25 685.60,781.60 688.75,813.50 693.10,850.00 696.40,876.25 700.40,900.00 704.40,920.00 708.40,937.50 712.90,948.75" fill="none" stroke="#ff6a00" stroke-width="1" stroke-linejoin="round"/>
<rect x="7.5" y="756.5" width="1192.5" height="173" fill="#9915ff" fill-opacity="0.2"/>
<g shape-rendering="crispEdges">
<line x1="7" y1="756.5" x2="1200" y2="756.5" stroke="#5e4a6e" stroke-width="1" stroke-dasharray="6 5"/>
<line x1="7" y1="929.5" x2="1200" y2="929.5" stroke="#5e4a6e" stroke-width="1" stroke-dasharray="6 5"/>
</g>
<g shape-rendering="crispEdges">
<rect x="1202" y="7" width="71" height="970" fill="#ffffff"/>
<rect x="7" y="977" width="1266" height="18" fill="#ffffff"/>
<rect x="7" y="725" width="1266" height="1" fill="#555555"/>
<rect x="1201" y="7" width="1" height="970" fill="#555555"/>
<rect x="7" y="976" width="1195" height="1" fill="#555555"/>
<rect x="1202" y="30" width="3" height="1" fill="#555555"/>
<rect x="1202" y="80" width="3" height="1" fill="#555555"/>
<rect x="1202" y="130" width="3" height="1" fill="#555555"/>
<rect x="1202" y="180" width="3" height="1" fill="#555555"/>
<rect x="1202" y="230" width="3" height="1" fill="#555555"/>
<rect x="1202" y="280" width="3" height="1" fill="#555555"/>
<rect x="1202" y="330" width="3" height="1" fill="#555555"/>
<rect x="1202" y="381" width="3" height="1" fill="#555555"/>
<rect x="1202" y="431" width="3" height="1" fill="#555555"/>
<rect x="1202" y="481" width="3" height="1" fill="#555555"/>
<rect x="1202" y="531" width="3" height="1" fill="#555555"/>
<rect x="1202" y="581" width="3" height="1" fill="#555555"/>
<rect x="1202" y="631" width="3" height="1" fill="#555555"/>
<rect x="1202" y="681" width="3" height="1" fill="#555555"/>
<rect x="1202" y="756" width="3" height="1" fill="#555555"/>
<rect x="1202" y="785" width="3" height="1" fill="#555555"/>
<rect x="1202" y="813" width="3" height="1" fill="#555555"/>
<rect x="1202" y="842" width="3" height="1" fill="#555555"/>
<rect x="1202" y="871" width="3" height="1" fill="#555555"/>
<rect x="1202" y="900" width="3" height="1" fill="#555555"/>
<rect x="1202" y="929" width="3" height="1" fill="#555555"/>
<rect x="1202" y="958" width="3" height="1" fill="#555555"/>
<rect x="127" y="977" width="1" height="3" fill="#555555"/>
<rect x="264" y="977" width="1" height="3" fill="#555555"/>
<rect x="351" y="977" width="1" height="3" fill="#555555"/>
<rect x="469" y="977" width="1" height="3" fill="#555555"/>
<rect x="556" y="977" width="1" height="3" fill="#555555"/>
<rect x="674" y="977" width="1" height="3" fill="#555555"/>
<rect x="760" y="977" width="1" height="3" fill="#555555"/>
<rect x="882" y="977" width="1" height="3" fill="#555555"/>
<rect x="965" y="977" width="1" height="3" fill="#555555"/>
<rect x="1087" y="977" width="1" height="3" fill="#555555"/>
<rect x="1170" y="977" width="1" height="3" fill="#555555"/>
</g>
<g fill="#444444" stroke="#444444" stroke-width="0.1">
<text x="1207.66" y="35" font-family="'Liberation Sans', Arial, sans-serif" font-size="11px" textLength="57.17" lengthAdjust="spacingAndGlyphs">2.20000000</text>
<text x="1207.66" y="85" font-family="'Liberation Sans', Arial, sans-serif" font-size="11px" textLength="57.17" lengthAdjust="spacingAndGlyphs">2.00000000</text>
<text x="1207.37" y="135" font-family="'Liberation Sans', Arial, sans-serif" font-size="11px" textLength="57.45" lengthAdjust="spacingAndGlyphs">1.80000000</text>
<text x="1207.37" y="185" font-family="'Liberation Sans', Arial, sans-serif" font-size="11px" textLength="57.45" lengthAdjust="spacingAndGlyphs">1.60000000</text>
<text x="1207.37" y="235" font-family="'Liberation Sans', Arial, sans-serif" font-size="11px" textLength="57.45" lengthAdjust="spacingAndGlyphs">1.40000000</text>
<text x="1207.37" y="285" font-family="'Liberation Sans', Arial, sans-serif" font-size="11px" textLength="57.45" lengthAdjust="spacingAndGlyphs">1.20000000</text>
<text x="1207.37" y="335" font-family="'Liberation Sans', Arial, sans-serif" font-size="11px" textLength="57.45" lengthAdjust="spacingAndGlyphs">1.00000000</text>
<text x="1207.78" y="386" font-family="'Liberation Sans', Arial, sans-serif" font-size="11px" textLength="57.04" lengthAdjust="spacingAndGlyphs">0.80000000</text>
<text x="1207.78" y="436" font-family="'Liberation Sans', Arial, sans-serif" font-size="11px" textLength="57.04" lengthAdjust="spacingAndGlyphs">0.60000000</text>
<text x="1207.78" y="536" font-family="'Liberation Sans', Arial, sans-serif" font-size="11px" textLength="57.04" lengthAdjust="spacingAndGlyphs">0.20000000</text>
<text x="1207.78" y="586" font-family="'Liberation Sans', Arial, sans-serif" font-size="11px" textLength="57.04" lengthAdjust="spacingAndGlyphs">0.00000000</text>
<text x="1207.72" y="636" font-family="'Liberation Sans', Arial, sans-serif" font-size="11px" textLength="61.11" lengthAdjust="spacingAndGlyphs">-0.20000000</text>
<text x="1207.72" y="686" font-family="'Liberation Sans', Arial, sans-serif" font-size="11px" textLength="61.11" lengthAdjust="spacingAndGlyphs">-0.40000000</text>
<clipPath id="cs"><rect x="1202" y="726" width="71" height="250"/></clipPath>
<g clip-path="url(#cs)">
<text x="1207.90" y="732" font-family="'Liberation Sans', Arial, sans-serif" font-size="11px" textLength="38.72" lengthAdjust="spacingAndGlyphs">90.0000</text>
<text x="1207.93" y="761" font-family="'Liberation Sans', Arial, sans-serif" font-size="11px" textLength="38.68" lengthAdjust="spacingAndGlyphs">80.0000</text>
<text x="1207.85" y="790" font-family="'Liberation Sans', Arial, sans-serif" font-size="11px" textLength="38.77" lengthAdjust="spacingAndGlyphs">70.0000</text>
<text x="1207.86" y="818" font-family="'Liberation Sans', Arial, sans-serif" font-size="11px" textLength="38.76" lengthAdjust="spacingAndGlyphs">60.0000</text>
<text x="1207.97" y="847" font-family="'Liberation Sans', Arial, sans-serif" font-size="11px" textLength="38.65" lengthAdjust="spacingAndGlyphs">50.0000</text>
<text x="1208.16" y="876" font-family="'Liberation Sans', Arial, sans-serif" font-size="11px" textLength="38.46" lengthAdjust="spacingAndGlyphs">40.0000</text>
<text x="1207.99" y="905" font-family="'Liberation Sans', Arial, sans-serif" font-size="11px" textLength="38.62" lengthAdjust="spacingAndGlyphs">30.0000</text>
<text x="1207.86" y="934" font-family="'Liberation Sans', Arial, sans-serif" font-size="11px" textLength="38.76" lengthAdjust="spacingAndGlyphs">20.0000</text>
<text x="1207.58" y="963" font-family="'Liberation Sans', Arial, sans-serif" font-size="11px" textLength="39.04" lengthAdjust="spacingAndGlyphs">10.0000</text>
</g>
<text x="116.62" y="991" font-family="'Liberation Sans', Arial, sans-serif" font-size="11px" textLength="20.30" lengthAdjust="spacingAndGlyphs">May</text>
<text x="251.72" y="991" font-family="'Liberation Sans', Arial, sans-serif" font-size="11px" font-weight="bold" textLength="24.58" lengthAdjust="spacingAndGlyphs">2016</text>
<text x="456.72" y="991" font-family="'Liberation Sans', Arial, sans-serif" font-size="11px" font-weight="bold" textLength="24.36" lengthAdjust="spacingAndGlyphs">2017</text>
<text x="547.93" y="991" font-family="'Liberation Sans', Arial, sans-serif" font-size="11px" textLength="17.37" lengthAdjust="spacingAndGlyphs">Jun</text>
<text x="661.72" y="991" font-family="'Liberation Sans', Arial, sans-serif" font-size="11px" font-weight="bold" textLength="24.52" lengthAdjust="spacingAndGlyphs">2018</text>
<text x="751.93" y="991" font-family="'Liberation Sans', Arial, sans-serif" font-size="11px" textLength="17.37" lengthAdjust="spacingAndGlyphs">Jun</text>
<text x="869.62" y="991" font-family="'Liberation Sans', Arial, sans-serif" font-size="11px" font-weight="bold" textLength="24.28" lengthAdjust="spacingAndGlyphs">2019</text>
<text x="956.73" y="991" font-family="'Liberation Sans', Arial, sans-serif" font-size="11px" textLength="17.37" lengthAdjust="spacingAndGlyphs">Jun</text>
<text x="1075.03" y="991" font-family="'Liberation Sans', Arial, sans-serif" font-size="11px" font-weight="bold" textLength="23.91" lengthAdjust="spacingAndGlyphs">2020</text>
<text x="1161.93" y="991" font-family="'Liberation Sans', Arial, sans-serif" font-size="11px" textLength="17.16" lengthAdjust="spacingAndGlyphs">Jun</text>
</g>
<g shape-rendering="crispEdges">
<rect x="1201" y="414" width="68" height="16" fill="#555555"/>
<rect x="1185" y="414" width="15" height="16" fill="#555555"/>
<rect x="1202" y="421" width="3" height="1" fill="#ffffff"/>
<rect x="1189" y="421" width="7" height="1" fill="#ffffff"/>
<rect x="1192" y="418" width="1" height="7" fill="#ffffff"/>
<rect x="1201" y="475" width="68" height="16" fill="#6ba583"/>
<rect x="1202" y="482" width="3" height="1" fill="#ffffff"/>
<rect x="311" y="977" width="64" height="18" fill="#555555"/>
<rect x="343" y="977" width="1" height="3" fill="#ffffff"/>
</g>
<g fill="#ffffff" stroke="#ffffff" stroke-width="0.15">
<text x="1207.67" y="426" font-family="'Liberation Sans', Arial, sans-serif" font-size="11px" textLength="57.64" lengthAdjust="spacingAndGlyphs">0.63881649</text>
<text x="1207.68" y="487" font-family="'Liberation Sans', Arial, sans-serif" font-size="11px" textLength="57.44" lengthAdjust="spacingAndGlyphs">0.39585874</text>
<text x="314.19" y="991" font-family="'Liberation Sans', Arial, sans-serif" font-size="11px" textLength="57.31" lengthAdjust="spacingAndGlyphs">2016-05-23</text>
</g>
<rect x="12.5" y="19.5" width="12" height="12" rx="2" fill="#ffffff" stroke="#6e6e6e" stroke-width="1"/>
<path d="M14 25h9v1h-9zM18 21h1v9h-1z" fill="#6e6e6e" shape-rendering="crispEdges"/>
<g text-rendering="geometricPrecision" stroke-width="0.04">
<text x="31.20" y="32" font-family="'Liberation Sans', Arial, sans-serif" font-size="15.3px" fill="#5f5f5f" textLength="9.80" lengthAdjust="spacingAndGlyphs" stroke="#5f5f5f">O</text>
<text x="130.70" y="32" font-family="'Liberation Sans', Arial, sans-serif" font-size="15.3px" fill="#5f5f5f" textLength="10.60" lengthAdjust="spacingAndGlyphs" stroke="#5f5f5f">H</text>
<text x="230.68" y="32" font-family="'Liberation Sans', Arial, sans-serif" font-size="15.3px" fill="#5f5f5f" textLength="8.64" lengthAdjust="spacingAndGlyphs" stroke="#5f5f5f">L</text>
<text x="329.21" y="32" font-family="'Liberation Sans', Arial, sans-serif" font-size="15.3px" fill="#5f5f5f" textLength="8.44" lengthAdjust="spacingAndGlyphs" stroke="#5f5f5f">C</text>
<text x="43.22" y="32" font-family="'Liberation Sans', Arial, sans-serif" font-size="15.7px" fill="#5b1a13" textLength="77.77" lengthAdjust="spacingAndGlyphs" stroke="#5b1a13">0.00168836</text>
<text x="143.23" y="32" font-family="'Liberation Sans', Arial, sans-serif" font-size="15.7px" fill="#5b1a13" textLength="77.59" lengthAdjust="spacingAndGlyphs" stroke="#5b1a13">0.00181905</text>
<text x="241.33" y="32" font-family="'Liberation Sans', Arial, sans-serif" font-size="15.7px" fill="#5b1a13" textLength="77.61" lengthAdjust="spacingAndGlyphs" stroke="#5b1a13">0.00136528</text>
<text x="340.32" y="32" font-family="'Liberation Sans', Arial, sans-serif" font-size="15.7px" fill="#5b1a13" textLength="77.77" lengthAdjust="spacingAndGlyphs" stroke="#5b1a13">0.00159831</text>
</g>
<rect x="1164" y="34" width="14" height="14" fill="#000000" fill-opacity="0.155"/>
<rect x="1181" y="34" width="14" height="14" fill="#000000" fill-opacity="0.155"/>
<g fill="#ffffff">
<path d="M1170.5 36.8H1171.7V43.2H1173.7L1171.1 46.3L1168.5 43.2H1170.5Z"/>
<path d="M1187.9 35.7L1190.1 38.3H1188.5V40.9H1187.3V38.3H1185.7ZM1187.3 42H1188.5V44.1H1190.5L1187.9 47.2L1185.3 44.1H1187.3Z"/>
</g>
<g shape-rendering="crispEdges">
<rect x="45" y="999" width="1" height="14" fill="#b3b3b5"/>
<rect x="84" y="999" width="1" height="14" fill="#b3b3b5"/>
<rect x="125" y="999" width="1" height="14" fill="#b3b3b5"/>
<rect x="166" y="999" width="1" height="14" fill="#b3b3b5"/>
<rect x="207" y="999" width="1" height="14" fill="#b3b3b5"/>
<rect x="255" y="999" width="1" height="14" fill="#b3b3b5"/>
<rect x="294" y="999" width="1" height="14" fill="#b3b3b5"/>
<rect x="333" y="999" width="1" height="14" fill="#b3b3b5"/>
<rect x="373" y="999" width="1" height="14" fill="#b3b3b5"/>
<rect x="1062" y="999" width="1" height="14" fill="#b3b3b5"/>
<rect x="1106" y="999" width="1" height="14" fill="#b3b3b5"/>
<rect x="1140" y="999" width="1" height="14" fill="#b3b3b5"/>
<rect x="1182" y="999" width="1" height="14" fill="#b3b3b5"/>
<rect x="1232" y="999" width="1" height="14" fill="#b3b3b5"/>
</g>
<g fill="#8c8c8e" stroke="#8c8c8e" stroke-width="0.3" text-rendering="geometricPrecision">
<text x="19.62" y="1010" font-family="'Liberation Sans', Arial, sans-serif" font-size="11.2px" textLength="14.31" lengthAdjust="spacingAndGlyphs">1d</text>
<text x="58.90" y="1010" font-family="'Liberation Sans', Arial, sans-serif" font-size="11.2px" textLength="13.80" lengthAdjust="spacingAndGlyphs">5d</text>
<text x="97.91" y="1010" font-family="'Liberation Sans', Arial, sans-serif" font-size="11.2px" textLength="15.32" lengthAdjust="spacingAndGlyphs">1m</text>
<text x="138.97" y="1010" font-family="'Liberation Sans', Arial, sans-serif" font-size="11.2px" textLength="15.51" lengthAdjust="spacingAndGlyphs">3m</text>
<text x="179.83" y="1010" font-family="'Liberation Sans', Arial, sans-serif" font-size="11.2px" textLength="15.67" lengthAdjust="spacingAndGlyphs">6m</text>
<text x="221.01" y="1010" font-family="'Liberation Sans', Arial, sans-serif" font-size="11.2px" textLength="22.28" lengthAdjust="spacingAndGlyphs">YTD</text>
<text x="268.64" y="1010" font-family="'Liberation Sans', Arial, sans-serif" font-size="11.2px" textLength="13.28" lengthAdjust="spacingAndGlyphs">1y</text>
<text x="307.59" y="1010" font-family="'Liberation Sans', Arial, sans-serif" font-size="11.2px" textLength="13.43" lengthAdjust="spacingAndGlyphs">5y</text>
<text x="346.87" y="1010" font-family="'Liberation Sans', Arial, sans-serif" font-size="11.2px" textLength="15.03" lengthAdjust="spacingAndGlyphs">All</text>
<text x="386.27" y="1010" font-family="'Liberation Sans', Arial, sans-serif" font-size="11.2px" textLength="41.13" lengthAdjust="spacingAndGlyphs">Go to...</text>
<text x="1009.96" y="1010" font-family="'Liberation Sans', Arial, sans-serif" font-size="11.2px" textLength="40.09" lengthAdjust="spacingAndGlyphs">(UTC+3)</text>
<text x="1075.66" y="1010" font-family="'Liberation Sans', Arial, sans-serif" font-size="11.2px" textLength="18.44" lengthAdjust="spacingAndGlyphs">ext</text>
<text x="1119.65" y="1010" font-family="'Liberation Sans', Arial, sans-serif" font-size="11.2px" textLength="8.70" lengthAdjust="spacingAndGlyphs">%</text>
<text x="1153.53" y="1010" font-family="'Liberation Sans', Arial, sans-serif" font-size="11.2px" textLength="17.31" lengthAdjust="spacingAndGlyphs">log</text>
<text x="961.72" y="1010" font-family="'Liberation Sans', Arial, sans-serif" font-size="11.2px" font-weight="bold" textLength="44.34" lengthAdjust="spacingAndGlyphs">22:04:30</text>
<text x="1195.96" y="1010" font-family="'Liberation Sans', Arial, sans-serif" font-size="11.2px" fill="#4eb3e6" textLength="24.57" lengthAdjust="spacingAndGlyphs" stroke="#4eb3e6">auto</text>
</g>
<path d="M1251.60 1001.93L1252.48 1000.02L1253.52 1000.02L1254.40 1001.93L1254.88 1002.14L1256.86 1001.40L1257.60 1002.14L1256.86 1004.12L1257.07 1004.60L1258.98 1005.48L1258.98 1006.52L1257.07 1007.40L1256.86 1007.88L1257.60 1009.86L1256.86 1010.60L1254.88 1009.86L1254.40 1010.07L1253.52 1011.98L1252.48 1011.98L1251.60 1010.07L1251.12 1009.86L1249.14 1010.60L1248.40 1009.86L1249.14 1007.88L1248.93 1007.40L1247.02 1006.52L1247.02 1005.48L1248.93 1004.60L1249.14 1004.12L1248.40 1002.14L1249.14 1001.40L1251.12 1002.14ZM1250.30 1006.00a2.7 2.7 0 1 0 5.4 0a2.7 2.7 0 1 0 -5.4 0Z" fill="#838587" fill-rule="evenodd"/>
<path d="M581.5 -1H706.5V15.5a3 3 0 0 1 -3 3H584.5a3 3 0 0 1 -3 -3Z" fill="#ffffff" fill-opacity="0.75" stroke="#dcdfe3" stroke-width="1"/>
<text x="585.05" y="12.75" font-family="'Liberation Sans', Arial, sans-serif" font-size="10.3px" fill="#b4b8bf" textLength="115.41" lengthAdjust="spacingAndGlyphs" stroke="#b4b8bf" stroke-width="0.25" text-rendering="geometricPrecision">Exit Full Screen (ESC)</text>
</svg>
</body>
</html>
